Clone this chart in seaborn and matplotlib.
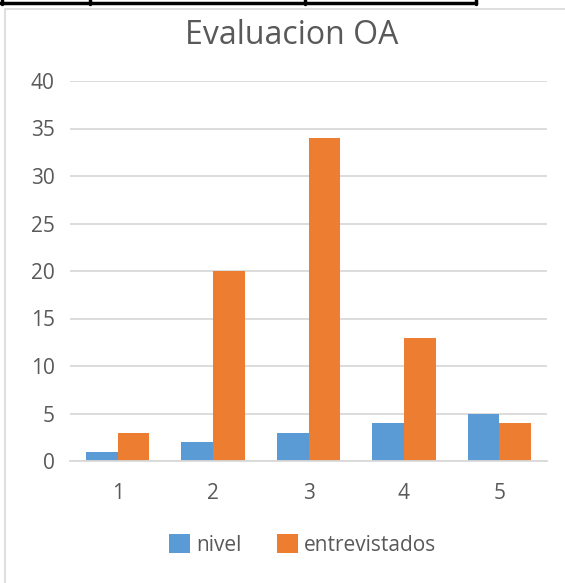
import pandas as pd
import matplotlib
matplotlib.use('Agg')
import matplotlib.pyplot as plt
import seaborn as sns
from matplotlib.patches import Rectangle
from matplotlib.lines import Line2D

categorias = ['1', '2', '3', '4', '5']
nivel = [1, 2, 3, 4, 5]
entrevistados = [3, 20, 34, 13, 4]
series = ['nivel', 'entrevistados']
colores = ['#5B9BD5', '#ED7D31']
yticks = [0, 5, 10, 15, 20, 25, 30, 35, 40]

df = pd.DataFrame({
    'categoria': categorias * 2,
    'valor': nivel + entrevistados,
    'serie': [series[0]] * len(categorias) + [series[1]] * len(categorias),
})

sns.set_style('white')
plt.rcParams['font.family'] = ['Open Sans', 'DejaVu Sans']
gris = '#595959'

W, H = 565, 583
fig = plt.figure(figsize=(W / 100, H / 100), dpi=100)
ax = fig.add_axes([70 / W, 1 - 461 / H, (547 - 70) / W, (461 - 81) / H])

sns.barplot(data=df, x='categoria', y='valor', hue='serie', palette=colores,
            width=0.666, gap=0, saturation=1, linewidth=0, ax=ax, legend=False)

ax.set_xlim(-0.5, 4.5)
ax.set_ylim(0, 40)
ax.set_yticks(yticks)
ax.yaxis.grid(True, color='#d9d9d9', linewidth=1.3)
ax.set_axisbelow(True)
for s in ['top', 'right', 'left']:
    ax.spines[s].set_visible(False)
ax.spines['bottom'].set_color('#d9d9d9')
ax.spines['bottom'].set_linewidth(1.3)
ax.tick_params(axis='both', length=0, labelsize=15, labelcolor=gris)
ax.tick_params(axis='x', pad=16)
ax.tick_params(axis='y', pad=11)
ax.set_xlabel('')
ax.set_ylabel('')

fig.text(291.5 / W, 1 - 44 / H, 'Evaluacion OA', ha='center', va='baseline',
         fontsize=23, color=gris)

handles = [Rectangle((0, 0), 1, 1, facecolor=c, edgecolor='none') for c in colores]
fig.legend(handles, series, loc='center', bbox_to_anchor=(303 / W, 1 - 545 / H),
           ncol=2, frameon=False, fontsize=15, labelcolor=gris,
           handlelength=1.0, handleheight=1.0, handletextpad=0.3,
           columnspacing=1.7, borderaxespad=0)

# marco del grafico
fig.add_artist(Rectangle((5 / W, -0.1), 1.2, 1 - 9 / H + 0.1,
                         transform=fig.transFigure, facecolor='none',
                         edgecolor='#d9d9d9', linewidth=1.2))
# bordes de la tabla arriba
fig.add_artist(Line2D([0, 476 / W], [1 - 3 / H, 1 - 3 / H],
                      transform=fig.transFigure, color='black', linewidth=2.5))
for xp in [2, 90, 305, 476]:
    fig.add_artist(Line2D([xp / W, xp / W], [1, 1 - 4 / H],
                          transform=fig.transFigure, color='black', linewidth=2.5))

fig.savefig('out.png', dpi=100)
